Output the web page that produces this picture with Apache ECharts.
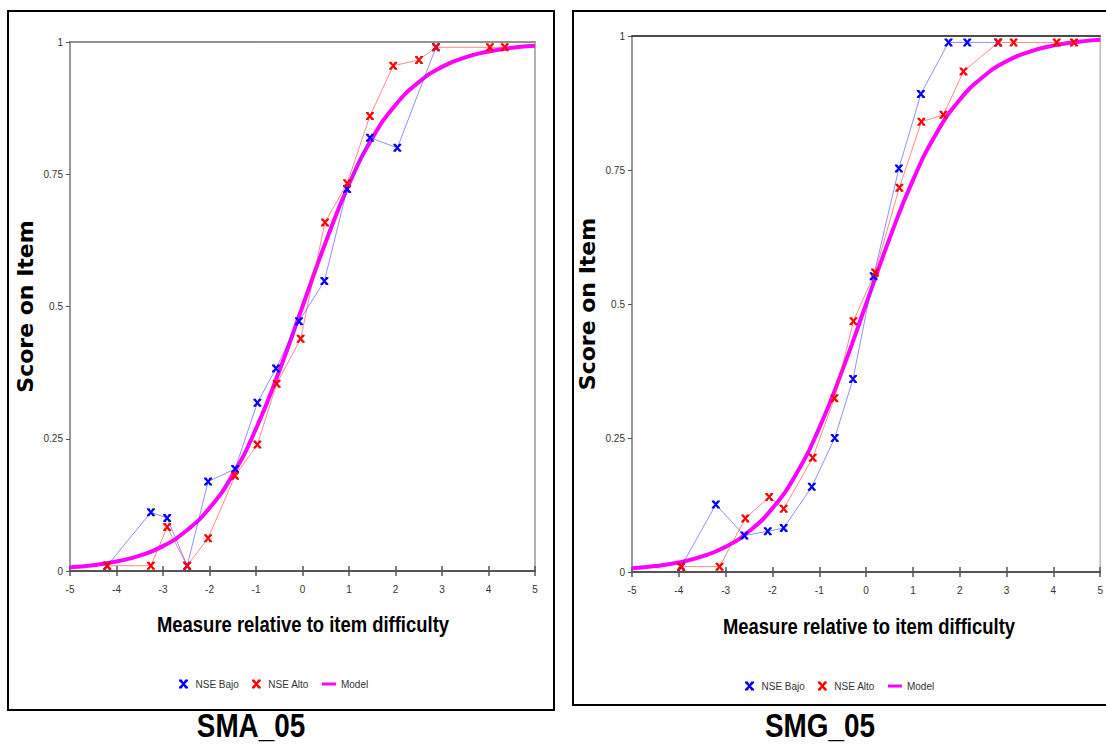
<!DOCTYPE html>
<html>
<head>
<meta charset="utf-8">
<title>SMA_05 / SMG_05</title>
<script src="https://cdn.jsdelivr.net/npm/echarts@6/dist/echarts.min.js"></script>
<style>
    html, body { margin: 0; padding: 0; background: #fff; }
    #chart { width: 1106px; height: 746px; }
</style>
</head>
<body>
<div id="chart"></div>
<script>
// valores
var modelX = [-5, -4.5, -4, -3.5, -3, -2.5, -2, -1.5, -1, -0.5, 0, 0.5, 1, 1.5, 2, 2.5, 3, 3.5, 4, 4.5, 5];
var modelY = [0.007, 0.011, 0.018, 0.029, 0.047, 0.076, 0.119, 0.182, 0.269, 0.378, 0.5, 0.622, 0.731, 0.818, 0.881, 0.924, 0.953, 0.971, 0.982, 0.989, 0.993];

// SMA_05
var smaBajoX = [-4.2, -3.26, -2.91, -2.48, -2.03, -1.45, -0.97, -0.57, -0.075, 0.47, 0.96, 1.45, 2.04, 2.87];
var smaBajoY = [0.01, 0.111, 0.1, 0.01, 0.169, 0.193, 0.318, 0.383, 0.472, 0.548, 0.722, 0.819, 0.8, 0.99];
var smaAltoX = [-4.2, -3.26, -2.91, -2.48, -2.03, -1.45, -0.97, -0.555, -0.04, 0.484, 0.96, 1.45, 1.95, 2.505, 2.87, 4.03, 4.35];
var smaAltoY = [0.01, 0.01, 0.083, 0.01, 0.062, 0.18, 0.239, 0.354, 0.439, 0.659, 0.733, 0.86, 0.955, 0.966, 0.99, 0.99, 0.99];

// SMG_05
var smgBajoX = [-3.95, -3.21, -2.6, -2.1, -1.76, -1.16, -0.67, -0.28, 0.16, 0.7, 1.17, 1.76, 2.16, 2.82];
var smgBajoY = [0.01, 0.126, 0.068, 0.076, 0.082, 0.159, 0.25, 0.36, 0.552, 0.753, 0.892, 0.988, 0.988, 0.988];
var smgAltoX = [-3.95, -3.13, -2.58, -2.07, -1.76, -1.14, -0.675, -0.27, 0.19, 0.71, 1.18, 1.65, 2.08, 2.82, 3.15, 4.07, 4.44];
var smgAltoY = [0.01, 0.01, 0.1, 0.14, 0.118, 0.213, 0.324, 0.468, 0.559, 0.717, 0.84, 0.853, 0.934, 0.988, 0.988, 0.988, 0.988];

var yTickLabels = ['0', '0.25', '0.5', '0.75', '1'];
var chartNames = ['SMA_05', 'SMG_05'];
var xTitle = 'Measure relative to item difficulty';

var sans = "'Liberation Sans', Arial, sans-serif";
var xMark = 'path://M0,0H3L5,3L7,0H10V1.6L6.6,5L10,8.4V10H7L5,7L3,10H0V8.4L3.4,5L0,1.6Z';
var lineMark = 'path://M0,0H14V3H0Z';

function pairs(xs, ys) {
    return xs.map(function (x, i) { return [x, ys[i]]; });
}

function xAxes(gridIndex, topColor) {
    return [{
        gridIndex: gridIndex,
        type: 'value', min: -5, max: 5, interval: 1,
        axisLine: { onZero: false, lineStyle: { color: '#555', width: 2 } },
        axisTick: { length: 5, lineStyle: { color: '#555', width: 1.5 } },
        axisLabel: { margin: 13, fontSize: 10, color: '#333', fontFamily: sans },
        splitLine: { show: false }
    }, {
        // marcas hacia dentro
        gridIndex: gridIndex,
        type: 'value', min: -5, max: 5, interval: 1, position: 'bottom',
        axisLine: { show: false, onZero: false },
        axisTick: { inside: true, length: 5, lineStyle: { color: '#555', width: 1.5 } },
        axisLabel: { show: false },
        splitLine: { show: false }
    }, {
        gridIndex: gridIndex,
        type: 'value', min: -5, max: 5, position: 'top',
        axisLine: { onZero: false, lineStyle: { color: topColor, width: 1.5 } },
        axisTick: { show: false },
        axisLabel: { show: false },
        splitLine: { show: false }
    }];
}

function yAxis(gridIndex) {
    return {
        gridIndex: gridIndex,
        type: 'value', min: 0, max: 1, interval: 0.25,
        axisLine: { show: true, onZero: false, lineStyle: { color: '#999', width: 2 } },
        axisTick: { show: true, length: 4, lineStyle: { color: '#555' } },
        axisLabel: {
            margin: 7, fontSize: 10, color: '#333', fontFamily: sans,
            formatter: function (v) { return yTickLabels[Math.round(v / 0.25)]; }
        },
        splitLine: { show: false },
        name: 'Score on Item',
        nameLocation: 'middle',
        nameGap: 34,
        nameTextStyle: { fontFamily: 'DejaVu Sans', fontWeight: 'bold', fontSize: 22, color: '#000' }
    };
}

function legend(left, top) {
    return {
        left: left, top: top,
        itemWidth: 14, itemHeight: 9, itemGap: 13,
        data: [
            { name: 'NSE Bajo', icon: xMark },
            { name: 'NSE Alto', icon: xMark },
            { name: 'Model', icon: lineMark }
        ],
        textStyle: { fontSize: 10, color: '#333', fontFamily: sans }
    };
}

// texto estrecho (tipo Arial Narrow) a base de escalar en horizontal
function narrowText(text, x, y, size) {
    return {
        type: 'text', silent: true, x: x, y: y, scaleX: 0.82,
        style: {
            text: text, fill: '#000', align: 'center', verticalAlign: 'middle',
            font: 'bold ' + size + 'px ' + sans
        }
    };
}

function pointSeries(name, color, lineColor, xi, yi, data) {
    return {
        name: name, type: 'line',
        xAxisIndex: xi, yAxisIndex: yi,
        data: data,
        symbol: xMark, symbolSize: 8,
        itemStyle: { color: color },
        lineStyle: { color: lineColor, width: 1 },
        z: 3
    };
}

function modelSeries(xi, yi) {
    return {
        name: 'Model', type: 'line',
        xAxisIndex: xi, yAxisIndex: yi,
        data: pairs(modelX, modelY),
        smooth: true,
        symbol: 'none',
        itemStyle: { color: '#ff00ff' },
        lineStyle: { color: '#ff00ff', width: 4 },
        z: 2
    };
}

var chart = echarts.init(document.getElementById('chart'), null, { renderer: 'svg' });
chart.setOption({
    animation: false,
    backgroundColor: '#fff',
    graphic: [{
        type: 'rect', silent: true,
        shape: { x: 8, y: 11, width: 546, height: 699 },
        style: { fill: 'none', stroke: '#000', lineWidth: 2 }
    }, {
        type: 'rect', silent: true,
        shape: { x: 573, y: 11, width: 560, height: 694 },
        style: { fill: 'none', stroke: '#000', lineWidth: 2 }
    },
        narrowText(xTitle, 303, 624, 22.5),
        narrowText(xTitle, 869, 626, 22.5),
        narrowText(chartNames[0], 251, 726, 34),
        narrowText(chartNames[1], 820, 726, 34)
    ],
    legend: [legend(174, 674), legend(740, 676)],
    grid: [
        { left: 70, top: 42, width: 465, height: 529, show: true, borderColor: '#999', borderWidth: 1.5 },
        { left: 632, top: 36, width: 473, height: 536, show: true, borderColor: '#bbb', borderWidth: 1.5 }
    ],
    xAxis: xAxes(0, '#888').concat(xAxes(1, '#222')),
    yAxis: [yAxis(0), yAxis(1)],
    series: [
        modelSeries(0, 0),
        pointSeries('NSE Bajo', '#0000ff', 'rgba(70,70,255,0.6)', 0, 0, pairs(smaBajoX, smaBajoY)),
        pointSeries('NSE Alto', '#ff0000', 'rgba(255,60,60,0.6)', 0, 0, pairs(smaAltoX, smaAltoY)),
        modelSeries(3, 1),
        pointSeries('NSE Bajo', '#0000ff', 'rgba(70,70,255,0.6)', 3, 1, pairs(smgBajoX, smgBajoY)),
        pointSeries('NSE Alto', '#ff0000', 'rgba(255,60,60,0.6)', 3, 1, pairs(smgAltoX, smgAltoY))
    ]
});
</script>
</body>
</html>
